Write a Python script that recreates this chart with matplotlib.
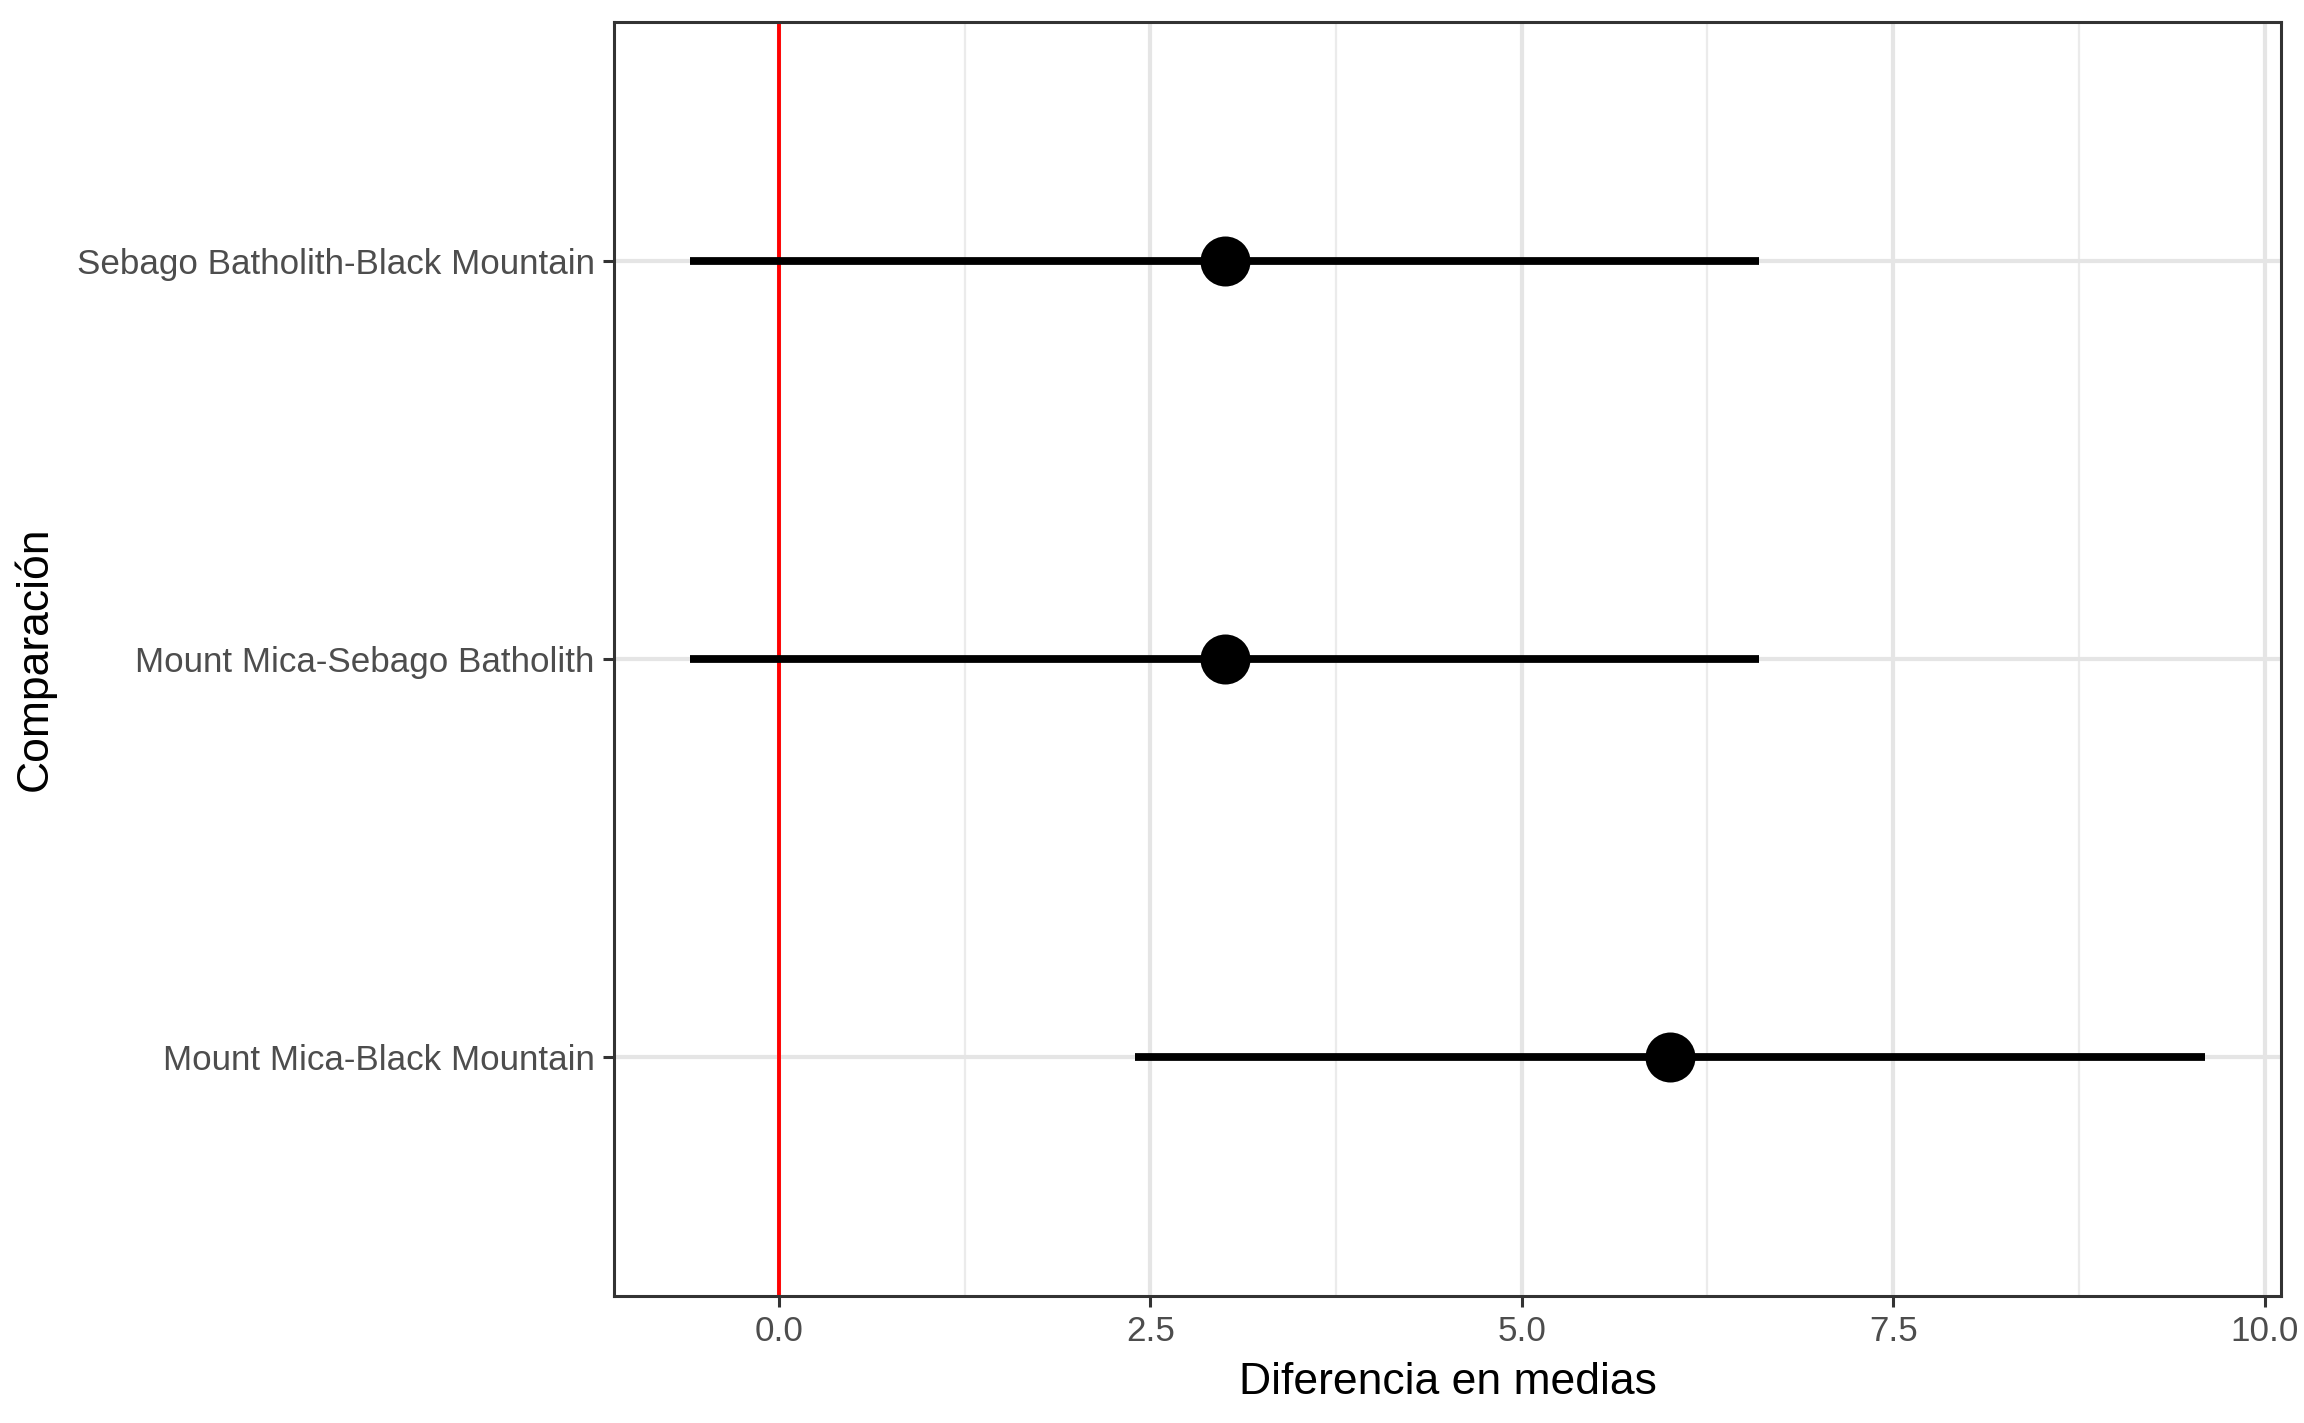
import matplotlib
matplotlib.use("Agg")
import matplotlib.pyplot as plt

comparisons = ["Mount Mica-Black Mountain", "Mount Mica-Sebago Batholith", "Sebago Batholith-Black Mountain"]
diff = [6.0, 3.0, 3.0]
lwr = [2.4, -0.6, -0.6]
upr = [9.6, 6.6, 6.6]
xticks = [0.0, 2.5, 5.0, 7.5, 10.0]

plt.rcParams['font.family'] = ['Liberation Sans', 'DejaVu Sans']

fig = plt.figure(figsize=(11.52, 7.115), dpi=200)
ax = fig.add_axes([0.2665, 0.0893, 0.990 - 0.2665, 0.9845 - 0.0893])

ypos = list(range(1, len(comparisons) + 1))

# grid
for x in [1.25, 3.75, 6.25, 8.75]:
    ax.axvline(x, color='#EBEBEB', lw=0.8, zorder=0)
for x in xticks:
    ax.axvline(x, color='#E5E5E5', lw=1.5, zorder=0)
for y in ypos:
    ax.axhline(y, color='#E5E5E5', lw=1.5, zorder=0)

ax.axvline(0, color='#FF0000', lw=1.4, zorder=1)
ax.hlines(ypos, lwr, upr, color='black', lw=2.8, zorder=2)
ax.plot(diff, ypos, 'o', color='black', markersize=17, zorder=3)

lo, hi = min(lwr), max(upr)
w = hi - lo
ax.set_xlim(lo - 0.05 * w, hi + 0.05 * w)
ax.set_ylim(0.4, len(comparisons) + 0.6)
ax.set_xticks(xticks)
ax.set_xticklabels([f"{x:.1f}" for x in xticks])
ax.set_yticks(ypos)
ax.set_yticklabels(comparisons)

ax.tick_params(axis='both', labelsize=12.6, labelcolor='#4D4D4D', color='#333333',
               length=4, width=1.1, pad=3)
for s in ax.spines.values():
    s.set_color('#333333')
    s.set_linewidth(1.1)

ax.set_xlabel("Diferencia en medias", fontsize=16, color='black', labelpad=5)
ax.set_ylabel("Comparación", fontsize=16, color='black')
ax.yaxis.set_label_coords(-0.335, 0.5)

fig.savefig("out.png", dpi=200)
